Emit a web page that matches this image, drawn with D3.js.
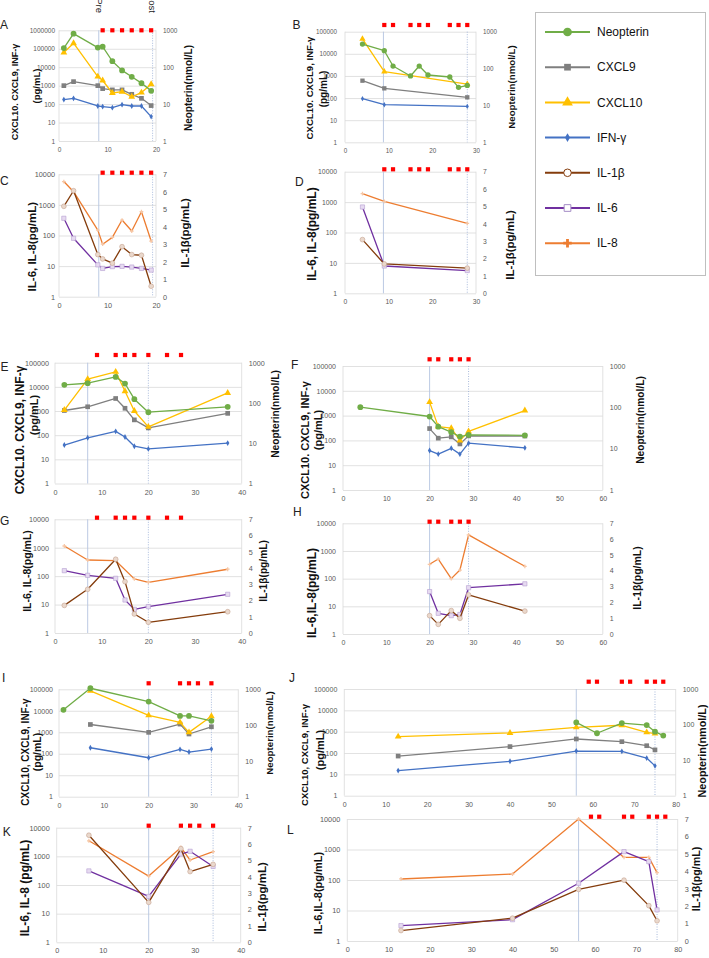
<!DOCTYPE html>
<html><head><meta charset="utf-8">
<script src="https://cdn.jsdelivr.net/npm/d3@7/dist/d3.min.js"></script>
<style>body{margin:0;background:#fff}svg{display:block;font-family:"Liberation Sans",Arial,sans-serif}</style>
</head><body><svg id="c" width="709" height="958"></svg>
<script>
// ---------- DATA ----------
const A_days=[1,3,8,9,11,13,15,17,19];
const A_neopterin=[330,810,340,360,145,82,55,37,23];
const A_cxcl9=[1000,1650,1000,690,590,590,340,205,83];
const A_cxcl10=[62000,200000,3100,1900,400,470,250,420,1200];
const A_ifng=[175,205,79,73,64,93,79,79,21];
const A_treat=[9,11,13,15,17,19];

const B_days=[4,9,28];
const B_neoDays=[4,9,11,15,17,19,24,26,28];
const B_neopterin=[462,305,117,63,117,67,59,31,35];
const B_cxcl9=[610,275,108];
const B_cxcl10=[47000,1550,430];
const B_ifng=[94,50,42];
const B_treat=[9,11,15,17,19,24,26,28];

const C_days=[1,3,8,9,11,13,15,17,19];
const C_il1b=[5.17,6.06,2.41,2.16,1.92,2.86,2.41,2.37,0.60];
const C_il6=[365,81,11,8.4,9.6,9.8,9.3,8.4,7.4];
const C_il8=[5800,2700,150,52,87,320,140,600,66];

const D_days=[4,9,28];
const D_il1b=[3.09,1.69,1.45];
const D_il6=[690,7.9,5.6];
const D_il8=[1900,1050,200];

const E_days=[2,7,13,15,17,20,37];
const E_neopterin=[282,309,444,304,124,59,80];
const E_cxcl9=[1050,1500,3300,1300,430,200,800];
const E_cxcl10=[1100,21000,42000,6600,1000,220,5600];
const E_ifng=[39,78,144,84,35,27,47];
const E_treat=[9,13,15,17,20,24,27];

const F_neoDays=[4,20,22,25,27,29,42];
const F_neopterin=[101,60,34,25,19.6,21.6,21];
const F_days=[20,22,25,27,29,42];
const F_cxcl9=[300,123,138,72,152,150];
const F_cxcl10=[3500,360,310,98,230,1600];
const F_ifng=[39,28,48,28,77,50];
const F_treat=[20,22,25,27,29];

const G_days=[2,7,13,15,17,20,37];
const G_il8Days=[2,7,13,17,20,37];
const G_il1b=[1.70,2.69,4.54,3.16,1.17,0.66,1.31];
const G_il6=[156,107,84,14.5,6.8,8.5,23];
const G_il8=[1150,370,350,80,60,175];
const G_treat=[9,13,15,17,20,24,27];

const H_days=[20,22,25,27,29,42];
const H_il1b=[1.16,0.61,1.48,0.99,2.47,1.45];
const H_il6=[34,5.6,4.6,5.1,47,65];
const H_il8=[330,510,100,205,3800,280];
const H_treat=[20,22,25,27,29];

const I_neoDays=[1,7,20,27,29,34];
const I_neopterin=[268,1070,455,181,181,132];
const I_days=[7,20,27,29,34];
const I_cxcl9=[2300,990,2400,830,1800];
const I_cxcl10=[85000,6100,2900,990,5600];
const I_ifng=[190,65,160,120,165];
const I_treat=[20,27,29,31,34];

const J_days=[13,40,56,67,73,75];
const J_neoDays=[56,61,67,73,75,77];
const J_neopterin=[115,57,110,97,63,49];
const J_cxcl9=[72,200,455,340,220,140];
const J_cxcl10=[590,870,1600,2000,930,810];
const J_ifng=[15,41,124,120,58,25];
const J_treat=[59,61,67,69,73,75,77];

const K_days=[7,20,27,29,34];
const K_il1b=[6.54,2.44,5.72,4.32,4.76];
const K_il6=[310,40,1200,1500,445];
const K_il8=[3500,205,2050,745,1450];
const K_treat=[20,27,29,31,34];

const L_days=[13,40,56,67,73,75];
const L_il1b=[0.60,1.31,2.96,3.49,2.03,1.16];
const L_il6=[3.2,5,78,850,400,10.5];
const L_il8=[108,157,10000,550,550,175];
const L_treat=[59,61,67,69,73,75,77];

const legendNames=["Neopterin","CXCL9","CXCL10","IFN-γ","IL-1β","IL-6","IL-8"];

// ---------- STYLE ----------
const COL={neo:"#70ad47",cxcl9:"#7f7f7f",cxcl10:"#ffc000",ifng:"#4472c4",il1b:"#843c0c",il6:"#7030a0",il8:"#ed7d31"};
const svg=d3.select("#c");

function marker(kind,scale){
  scale=scale||1;
  switch(kind){
    case "neo": return {type:d3.symbolCircle,size:26*scale,fill:COL.neo,stroke:"none"};
    case "cxcl9": return {type:d3.symbolSquare,size:22*scale,fill:COL.cxcl9,stroke:"none"};
    case "cxcl10": return {type:d3.symbolTriangle,size:20*scale,fill:COL.cxcl10,stroke:"none"};
    case "ifng": return {type:d3.symbolDiamond,size:10*scale,fill:COL.ifng,stroke:"none"};
    case "il1b": return {type:d3.symbolCircle,size:18*scale,fill:"#ead8cc",stroke:"#c4a290"};
    case "il6": return {type:d3.symbolSquare,size:18*scale,fill:"#e6daf1",stroke:"#b59ed0"};
    case "il8": return {type:d3.symbolCross,size:8*scale,fill:"#f6c7a6",stroke:"none"};
  }
}

function drawPanel(p){
  const g=svg.append("g");
  const x=d3.scaleLinear().domain([0,p.xmax]).range([p.x0,p.x1]);
  const y=d3.scaleLog().domain([1,p.ymax]).range([p.y1,p.y0]);
  const yr=p.kind==="chem"?d3.scaleLog().domain([1,1000]).range([p.y1,p.y0])
                           :d3.scaleLinear().domain([0,7]).range([p.y1,p.y0]);
  const decades=d3.range(0,Math.round(Math.log10(p.ymax))+1).map(e=>Math.pow(10,e));
  const la=g.append("g").attr("transform",`translate(${p.x0},0)`)
    .call(d3.axisLeft(y).tickValues(decades).tickFormat(d3.format("d")).tickSize(-(p.x1-p.x0)).tickPadding(p.lpad||6));
  la.select(".domain").remove();
  la.selectAll("line").attr("stroke","#d9d9d9").attr("stroke-width",0.8);
  la.selectAll("text").attr("fill","#595959").style("font-size",p.tf+"px").attr("font-family",null);
  g.append("line").attr("x1",p.x0).attr("x2",p.x0).attr("y1",p.y0).attr("y2",p.y1).attr("stroke","#d9d9d9").attr("stroke-width",0.8);
  g.append("line").attr("x1",p.x1).attr("x2",p.x1).attr("y1",p.y0).attr("y2",p.y1).attr("stroke","#d9d9d9").attr("stroke-width",0.8);
  const rvals=p.kind==="chem"?[1,10,100,1000]:d3.range(0,8);
  const ra=g.append("g").attr("transform",`translate(${p.x1},0)`)
    .call(d3.axisRight(yr).tickValues(rvals).tickFormat(d3.format("d")).tickSize(0).tickPadding(p.rpad||7));
  ra.select(".domain").remove();
  ra.selectAll("text").attr("fill","#595959").style("font-size",p.tf+"px").attr("font-family",null);
  const ba=g.append("g").attr("transform",`translate(0,${p.y1})`)
    .call(d3.axisBottom(x).tickValues(d3.range(0,p.xmax+1,10)).tickSize(0).tickPadding(p.bpad||6));
  ba.select(".domain").remove();
  ba.selectAll("text").attr("fill","#595959").style("font-size",p.tf+"px").attr("font-family",null);
  g.append("line").attr("x1",x(p.pre)).attr("x2",x(p.pre)).attr("y1",p.y0).attr("y2",p.y1)
    .attr("stroke","#b4c4e0").attr("stroke-width",0.9);
  g.append("line").attr("x1",x(p.post)).attr("x2",x(p.post)).attr("y1",p.y0).attr("y2",p.y1)
    .attr("stroke","#9fb3d8").attr("stroke-width",0.9).attr("stroke-dasharray","1,1.5");
  g.selectAll("rect.tr").data(p.treat).join("rect").attr("class","tr")
    .attr("x",d=>x(d)-2.1).attr("y",p.ty-2.1).attr("width",4.2).attr("height",4.2).attr("fill","#ff0000");
  p.series.forEach(s=>{
    const sc=s.right?yr:y;
    const pts=s.days.map((d,i)=>[d,s.vals[i]]);
    g.append("path").datum(pts).attr("fill","none").attr("stroke",COL[s.k]).attr("stroke-width",1.3)
      .attr("stroke-linejoin","round")
      .attr("d",d3.line().x(d=>x(d[0])).y(d=>sc(d[1])));
    const m=marker(s.k,p.ms||1);
    g.selectAll(null).data(pts).join("path")
      .attr("transform",d=>`translate(${x(d[0])},${sc(d[1])})`)
      .attr("d",d3.symbol().type(m.type).size(m.size))
      .attr("fill",m.fill).attr("stroke",m.stroke).attr("stroke-width",0.6);
  });
  g.append("text").attr("x",p.lx).attr("y",p.ly).text(p.id).style("font-size","12px").attr("fill","#222");
  p.titles.forEach(t=>{
    g.append("text").attr("transform",`translate(${t.x},${t.cy}) rotate(-90)`)
      .attr("text-anchor","middle").attr("dy","0.35em").style("font-size",t.s+"px")
      .attr("font-weight","bold").attr("fill","#111").text(t.t);
  });
}

function chemSeries(days,neoDays,neo,c9,c10,ifn){
  return [
    {k:"ifng",days:days,vals:ifn},
    {k:"cxcl9",days:days,vals:c9},
    {k:"cxcl10",days:days,vals:c10},
    {k:"neo",days:neoDays,vals:neo,right:true}
  ];
}
function ilSeries(days,il8Days,il8,il6,il1b){
  return [
    {k:"il8",days:il8Days,vals:il8},
    {k:"il6",days:days,vals:il6},
    {k:"il1b",days:days,vals:il1b,right:true}
  ];
}
const CX="CXCL10. CXCL9, INF-γ", CX2="CXCL10, CXCL9, INF-γ", PG="(pg/mL)", NEO="Neopterin(nmol/L)", IL1="IL-1β(pg/mL)";

const panels=[
 {id:"A",kind:"chem",x0:59,x1:156,xmax:20,y0:30.3,y1:141,ymax:1e6,tf:6.5,lpad:4,pre:8.2,post:19.3,treat:A_treat,ty:30.3,
  lx:0,ly:29,series:chemSeries(A_days,A_days,A_neopterin,A_cxcl9,A_cxcl10,A_ifng),
  titles:[{t:"CXCL10. CXCL9,  INF-γ",x:15,cy:92,s:9},{t:PG,x:37,cy:86,s:9.5},{t:NEO,x:188,cy:88,s:10}]},
 {id:"B",kind:"chem",x0:345,x1:476,xmax:30,y0:31.7,y1:142.3,ymax:1e5,tf:6.3,lpad:8,pre:8.8,post:28,treat:B_treat,ty:25,
  lx:292.5,ly:29.3,ms:0.85,series:chemSeries(B_days,B_neoDays,B_neopterin,B_cxcl9,B_cxcl10,B_ifng),
  titles:[{t:CX,x:310,cy:88,s:9.6},{t:PG,x:323,cy:89,s:10},{t:NEO,x:512,cy:87,s:9.7}]},
 {id:"C",kind:"il",x0:59,x1:156,xmax:20,y0:174.3,y1:296.7,ymax:1e4,tf:7.3,lpad:4,pre:8.2,post:19.3,treat:A_treat,ty:172.7,
  lx:0,ly:185,series:ilSeries(C_days,C_days,C_il8,C_il6,C_il1b),
  titles:[{t:"IL-6, IL-8(pg/mL)",x:32,cy:246.7,s:11.5},{t:IL1,x:185,cy:233,s:11.5}]},
 {id:"D",kind:"il",x0:345,x1:476,xmax:30,y0:171.7,y1:293.3,ymax:1e4,tf:6.8,lpad:8,pre:8.8,post:28,treat:B_treat,ty:169.3,
  lx:295,ly:186,series:ilSeries(D_days,D_days,D_il8,D_il6,D_il1b),
  titles:[{t:"IL-6, IL-8(pg/mL)",x:312,cy:234,s:12},{t:IL1,x:510,cy:245,s:11.5}]},
 {id:"E",kind:"chem",x0:55,x1:241.7,xmax:40,y0:362.7,y1:483.5,ymax:1e5,tf:7.2,lpad:6,pre:7,post:20,treat:E_treat,ty:355,
  lx:0.5,ly:370.7,series:chemSeries(E_days,E_days,E_neopterin,E_cxcl9,E_cxcl10,E_ifng),
  titles:[{t:CX,x:20,cy:430,s:12},{t:PG,x:34,cy:415,s:11},{t:NEO,x:275,cy:414,s:10.2}]},
 {id:"F",kind:"chem",x0:343,x1:602.8,xmax:60,y0:366,y1:490,ymax:1e5,tf:7,lpad:7,pre:20,post:29,treat:F_treat,ty:359.3,
  lx:291,ly:369.3,series:chemSeries(F_days,F_neoDays,F_neopterin,F_cxcl9,F_cxcl10,F_ifng),
  titles:[{t:CX,x:305,cy:440,s:11},{t:PG,x:318,cy:430,s:11},{t:NEO,x:640,cy:420,s:10.2}]},
 {id:"G",kind:"il",x0:55,x1:241.7,xmax:40,y0:519.3,y1:633,ymax:1e4,tf:7.2,lpad:6,pre:7,post:20,treat:G_treat,ty:517.7,
  lx:0,ly:525,series:ilSeries(G_days,G_il8Days,G_il8,G_il6,G_il1b),
  titles:[{t:"IL-6, IL-8(pg/mL)",x:27,cy:571,s:10.5},{t:IL1,x:263,cy:571,s:10.2}]},
 {id:"H",kind:"il",x0:343,x1:602.8,xmax:60,y0:523.3,y1:634,ymax:1e4,tf:7,lpad:7,pre:20,post:29,treat:H_treat,ty:521.7,
  lx:293,ly:516,series:ilSeries(H_days,H_days,H_il8,H_il6,H_il1b),
  titles:[{t:"IL-6,IL-8(pg/mL)",x:311.7,cy:593,s:12},{t:IL1,x:637,cy:578,s:10.5}]},
 {id:"I",kind:"chem",x0:59,x1:238.3,xmax:40,y0:689.3,y1:796.7,ymax:1e5,tf:7,lpad:6,pre:20,post:34,treat:I_treat,ty:683.3,
  lx:2,ly:682,series:chemSeries(I_days,I_neoDays,I_neopterin,I_cxcl9,I_cxcl10,I_ifng),
  titles:[{t:CX2,x:25,cy:752,s:10},{t:PG,x:37,cy:752,s:10.5},{t:NEO,x:270,cy:733,s:9.7}]},
 {id:"J",kind:"chem",x0:344.3,x1:675.7,xmax:80,y0:689,y1:795.7,ymax:1e5,tf:7,lpad:7,pre:56,post:75,treat:J_treat,ty:681.7,
  lx:289,ly:682,series:chemSeries(J_days,J_neoDays,J_neopterin,J_cxcl9,J_cxcl10,J_ifng),
  titles:[{t:CX2,x:305,cy:755,s:9.5},{t:PG,x:320,cy:750,s:11},{t:NEO,x:702.5,cy:751,s:10.8}]},
 {id:"K",kind:"il",x0:56.7,x1:240.7,xmax:40,y0:827.7,y1:942.3,ymax:1e4,tf:7.3,lpad:7,pre:20,post:34,treat:K_treat,ty:825.7,
  lx:2.7,ly:836,series:ilSeries(K_days,K_days,K_il8,K_il6,K_il1b),
  titles:[{t:"IL-6, IL-8 (pg/mL)",x:25,cy:888,s:12},{t:IL1,x:262,cy:897,s:11.5}]},
 {id:"L",kind:"il",x0:347.3,x1:677.7,xmax:80,y0:819,y1:941,ymax:1e4,tf:7.3,lpad:7,pre:56,post:75,treat:L_treat,ty:816.7,
  lx:287,ly:834,series:ilSeries(L_days,L_days,L_il8,L_il6,L_il1b),
  titles:[{t:"IL-6,IL-8(pg/mL)",x:318.3,cy:893,s:11},{t:IL1,x:696.7,cy:879,s:10.7}]}
];
panels.forEach(drawPanel);

[["Pre",99],["Post",152]].forEach(([t,xx])=>{
  svg.append("text").attr("transform",`translate(${xx},13) rotate(90)`).attr("text-anchor","end")
    .attr("dy","0.35em").style("font-size","9.5px").attr("fill","#222").text(t);
});

const lg=svg.append("g");
lg.append("rect").attr("x",535.5).attr("y",12.5).attr("width",170).attr("height",263)
  .attr("fill","#fff").attr("stroke","#bfbfbf").attr("stroke-width",1);
const lkeys=["neo","cxcl9","cxcl10","ifng","il1b","il6","il8"];
const lmk={
  neo:{type:d3.symbolCircle,size:60,fill:COL.neo,stroke:"none"},
  cxcl9:{type:d3.symbolSquare,size:45,fill:COL.cxcl9,stroke:"none"},
  cxcl10:{type:d3.symbolTriangle,size:50,fill:COL.cxcl10,stroke:"none"},
  ifng:{type:d3.symbolDiamond,size:22,fill:COL.ifng,stroke:"none"},
  il1b:{type:d3.symbolCircle,size:45,fill:"#fff",stroke:"#843c0c"},
  il6:{type:d3.symbolSquare,size:45,fill:"#fff",stroke:"#a58cc6"},
  il8:{type:d3.symbolCross,size:40,fill:COL.il8,stroke:"none"}
};
lkeys.forEach((k,i)=>{
  const yy=32+i*35.2;
  lg.append("line").attr("x1",545).attr("x2",590).attr("y1",yy).attr("y2",yy).attr("stroke",COL[k]).attr("stroke-width",2);
  const m=lmk[k];
  lg.append("path").attr("transform",`translate(567.5,${yy})`).attr("d",d3.symbol().type(m.type).size(m.size))
    .attr("fill",m.fill).attr("stroke",m.stroke).attr("stroke-width",1);
  lg.append("text").attr("x",597).attr("y",yy).attr("dy","0.35em").style("font-size","12px").attr("fill","#111").text(legendNames[i]);
});
</script></body></html>
